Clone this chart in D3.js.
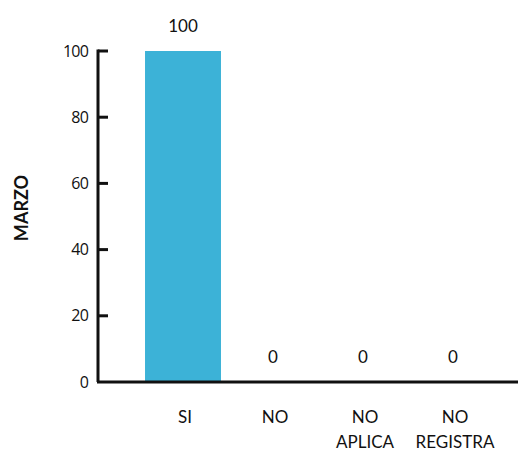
<!DOCTYPE html>
<html>
<head>
<meta charset="utf-8">
<script src="https://cdn.jsdelivr.net/npm/d3@7"></script>
<style>
  body { margin: 0; background: #fff; }
</style>
</head>
<body>
<div id="chart"></div>
<script>
// data
const categories = ["SI", "NO", "NO APLICA", "NO REGISTRA"];
const values = [100, 0, 0, 0];
const yTicks = [0, 20, 40, 60, 80, 100];
const yLabel = "MARZO";

const width = 518, height = 451;

const svg = d3
  .select("#chart")
  .append("svg")
  .attr("width", width)
  .attr("height", height);

// scales
const x = d3
  .scaleBand()
  .domain(categories)
  .range([138, 498])
  .paddingInner(0.156)
  .paddingOuter(0.078);

const y = d3.scaleLinear().domain([0, 100]).range([382, 51]);

// bars
svg
  .append("g")
  .selectAll("rect")
  .data(values)
  .join("rect")
  .attr("x", (d, i) => x(categories[i]))
  .attr("y", d => y(d))
  .attr("width", x.bandwidth())
  .attr("height", d => y(0) - y(d))
  .attr("fill", "#3cb2d7");

// x axis line
svg
  .append("line")
  .attr("x1", 97)
  .attr("x2", width)
  .attr("y1", y(0))
  .attr("y2", y(0))
  .attr("stroke", "#111")
  .attr("stroke-width", 3);

// y axis, labels from the axis, line and ticks drawn by hand
const yAxis = svg
  .append("g")
  .attr("transform", "translate(98,0)")
  .call(d3.axisLeft(y).tickValues(yTicks).tickSize(0).tickPadding(10));

yAxis.select(".domain").remove();
yAxis
  .selectAll(".tick text")
  .attr("font-family", "'Open Sans', sans-serif")
  .attr("font-size", "16px")
  .attr("letter-spacing", "-0.8px")
  .attr("fill", "#111");

svg
  .append("line")
  .attr("x1", 98)
  .attr("x2", 98)
  .attr("y1", y(100) - 1.5)
  .attr("y2", y(0))
  .attr("stroke", "#111")
  .attr("stroke-width", 3);

// inward ticks
svg
  .append("g")
  .attr("class", "yticks")
  .selectAll("line")
  .data(yTicks.filter(d => d > 0))
  .join("line")
  .attr("x1", 98)
  .attr("x2", 108)
  .attr("y1", d => y(d))
  .attr("y2", d => y(d))
  .attr("stroke", "#111")
  .attr("stroke-width", 3);

// y label
svg
  .append("text")
  .attr("transform", "translate(28,208) rotate(-90)")
  .attr("text-anchor", "middle")
  .attr("font-family", "Lato, sans-serif")
  .attr("font-weight", "bold")
  .attr("font-size", "18px")
  .attr("fill", "#111")
  .text(yLabel);

// value labels
svg
  .append("g")
  .selectAll("text")
  .data(values)
  .join("text")
  .attr("x", (d, i) => x(categories[i]) + x.bandwidth() / 2)
  .attr("y", d => y(d) - 19)
  .attr("text-anchor", "middle")
  .attr("font-family", "Lato, sans-serif")
  .attr("font-size", "17px")
  .attr("fill", "#111")
  .text(d => d);

// category labels, split on the first space for multi word ones
const catText = svg
  .append("g")
  .selectAll("text")
  .data(categories)
  .join("text")
  .attr("x", d => x(d) + x.bandwidth() / 2 + 2)
  .attr("y", 423)
  .attr("text-anchor", "middle")
  .attr("font-family", "Lato, sans-serif")
  .attr("font-size", "17px")
  .attr("fill", "#111");

catText.each(function (d) {
  const parts = d.split(" ");
  const t = d3.select(this);
  if (parts.length === 1) {
    t.text(d);
  } else {
    t.append("tspan").attr("x", t.attr("x")).text(parts[0]);
    t.append("tspan").attr("x", t.attr("x")).attr("dy", 25).text(parts.slice(1).join(" "));
  }
});
</script>
</body>
</html>
